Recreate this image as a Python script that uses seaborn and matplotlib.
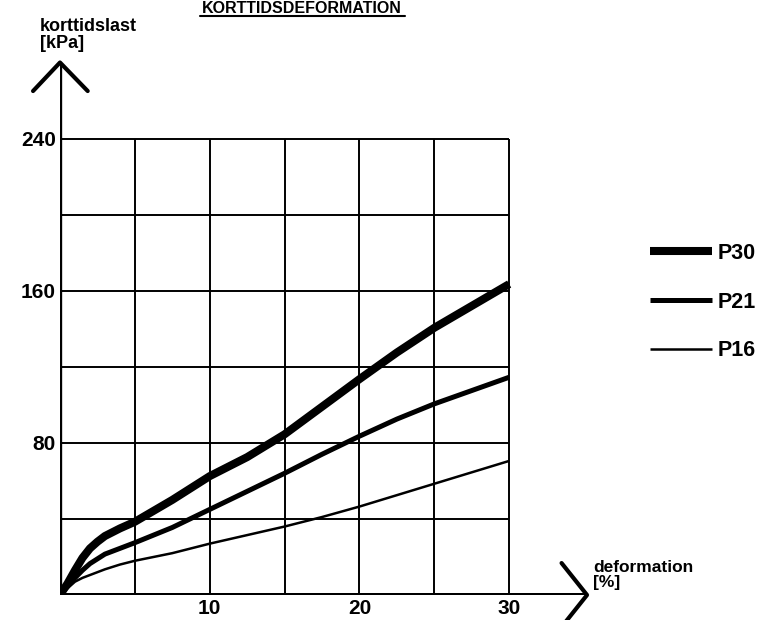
import numpy as np
import pandas as pd
import matplotlib.pyplot as plt
import seaborn as sns
from matplotlib.lines import Line2D

# Korttidsdeformation - last mot deformation for tre kvaliteter
deformation = [0, 0.5, 1, 1.5, 2, 2.5, 3, 4, 5, 7.5, 10, 12.5, 15, 17.5, 20, 22.5, 25, 27.5, 30]
p30 = [0, 6, 13, 19.5, 24.5, 28, 31, 35, 38.5, 50, 62.5, 72.5, 84.5, 99, 113.5, 127.5, 140.5, 152, 163.5]
p21 = [0, 4.5, 9, 13, 16.5, 19, 21.5, 24.5, 27.5, 35.5, 45, 54.5, 64, 74, 83.5, 92.5, 100.5, 107.5, 114.5]
p16 = [0, 3.5, 7, 9, 10.5, 12, 13.5, 16, 18, 22, 27, 31.5, 36, 41, 46.5, 52.5, 58.5, 64.5, 70.5]
series = ['P30', 'P21', 'P16']
widths = {'P30': 5.8, 'P21': 3.6, 'P16': 1.8}

xticks = [10, 20, 30]
yticks = [80, 160, 240]
xgrid = [5, 10, 15, 20, 25, 30]
ygrid = [40, 80, 120, 160, 200, 240]

df = pd.DataFrame({
    'deformation': deformation * 3,
    'last': p30 + p21 + p16,
    'serie': [s for s in series for _ in deformation],
})

sns.set_style('white')
plt.rcParams['font.family'] = ['Liberation Sans', 'DejaVu Sans']
plt.rcParams['text.color'] = 'black'

fig = plt.figure(figsize=(7.57, 6.2), dpi=100)
ax = fig.add_axes([60 / 757, 25 / 620, 539 / 757, 542 / 620])
ax.set_xlim(0, 36)
ax.set_ylim(0, 285)

# rutnat
ax.vlines(xgrid, 0, 240, color='black', lw=1.4)
ax.hlines(ygrid, 0, 30, color='black', lw=1.4)

# axlar med pilar
ax.plot([0, 35.2], [0, 0], color='black', lw=3.6, solid_capstyle='butt')
ax.plot([0, 0], [0, 280], color='black', lw=2.4, solid_capstyle='butt')
ax.plot([33.5, 35.2, 33.5], [16.8, 0, -16.8], color='black', lw=3,
        solid_capstyle='round', clip_on=False)
ax.plot([-1.8, 0, 1.85], [265, 280, 265], color='black', lw=3,
        solid_capstyle='round', clip_on=False)

for s in series:
    sns.lineplot(data=df[df.serie == s], x='deformation', y='last', color='black',
                 linewidth=widths[s], label=s, ax=ax, solid_capstyle='butt',
                 solid_joinstyle='round')

for sp in ax.spines.values():
    sp.set_visible(False)
ax.set_xticks(xticks)
ax.set_yticks(yticks)
ax.tick_params(length=0, labelsize=15, pad=3, labelcolor='black')
for lab in ax.get_xticklabels() + ax.get_yticklabels():
    lab.set_fontweight('bold')
ax.set_xlabel('')
ax.set_ylabel('')

ax.legend(loc='center left', bbox_to_anchor=(650 / 757, 1 - 302 / 620),
          bbox_transform=fig.transFigure, frameon=False,
          handlelength=2.9, handletextpad=0.22, labelspacing=1.3,
          borderpad=0, borderaxespad=0, prop={'weight': 'bold', 'size': 15.5})

fig.text(40 / 757, 1 - 18 / 620, 'korttidslast\n[kPa]', ha='left', va='top',
         fontsize=13, fontweight='bold', linespacing=1.0)
fig.text(593 / 757, 1 - 560 / 620, 'deformation\n[%]', ha='left', va='top',
         fontsize=12.5, fontweight='bold', linespacing=1.0)
fig.text(302 / 757, 1 - 13 / 620, 'KORTTIDSDEFORMATION', ha='center', va='baseline',
         fontsize=11.5, fontweight='bold')
fig.add_artist(Line2D([200 / 757, 405 / 757], [1 - 16 / 620, 1 - 16 / 620],
                      color='black', lw=1.5, transform=fig.transFigure))

fig.savefig('out.png', dpi=100)
